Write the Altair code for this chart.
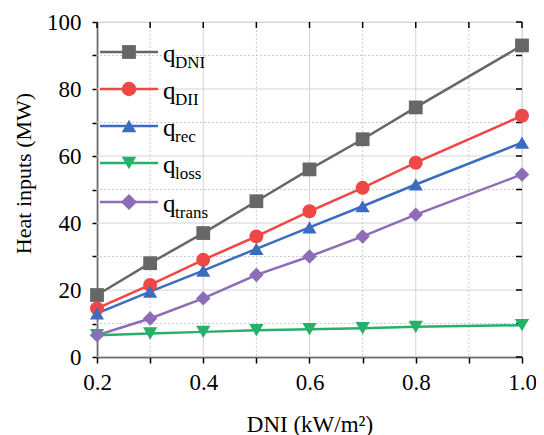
import altair as alt
import pandas as pd

# ---- data ----
dni = [0.2, 0.3, 0.4, 0.5, 0.6, 0.7, 0.8, 1.0]
q_dni = [18.5, 28.0, 37.0, 46.5, 56.0, 65.0, 74.5, 93.0]
q_dii = [14.5, 21.5, 29.0, 36.0, 43.5, 50.5, 58.0, 72.0]
q_rec = [13.0, 19.5, 25.8, 32.3, 38.7, 45.0, 51.5, 64.0]
q_loss = [6.5, 7.0, 7.5, 8.0, 8.3, 8.6, 9.0, 9.5]
q_trans = [6.5, 11.5, 17.5, 24.5, 30.0, 36.0, 42.5, 54.5]

series_names = ["DNI", "DII", "rec", "loss", "trans"]
series_vals = [q_dni, q_dii, q_rec, q_loss, q_trans]
colors = ["#676767", "#ef4646", "#3b6cc0", "#27b06a", "#8d6db8"]
shapes = ["square", "circle", "triangle-up", "triangle-down", "diamond"]
msizes = [190, 210, 210, 210, 260]

x_ticks = [0.2, 0.3, 0.4, 0.5, 0.6, 0.7, 0.8, 0.9, 1.0]
y_ticks = [0, 10, 20, 30, 40, 50, 60, 70, 80, 90, 100]

W, H = 425, 335
FONT = "Liberation Serif"

rows = []
for name, vals in zip(series_names, series_vals):
    for x, v in zip(dni, vals):
        rows.append({"x": x, "v": v, "s": name})
df = pd.DataFrame(rows)

xs = alt.Scale(domain=[0.2, 1.0], nice=False, zero=False)
ys = alt.Scale(domain=[0, 100], nice=False)
cs = alt.Scale(domain=series_names, range=colors)
ss = alt.Scale(domain=series_names, range=shapes)
zs = alt.Scale(domain=series_names, range=msizes)

XAXIS = alt.Axis(
    values=x_ticks, title="DNI (kW/m²)",
    labelExpr="round(datum.value*10)%2==0 ? format(datum.value,'.1f') : ''",
    labelFlush=False, labelOverlap=False,
    grid=False, tickSize=6, tickWidth=1.5, domainWidth=1.5, domainColor="black", tickColor="black",
    labelFont=FONT, labelFontSize=23, labelColor="black", labelPadding=8,
    titleFont=FONT, titleFontSize=23, titleFontWeight="normal", titleColor="black", titlePadding=19)
YAXIS = alt.Axis(
    values=y_ticks, title="Heat inputs (MW)",
    labelExpr="datum.value%20==0 ? datum.label : ''",
    labelFlush=False, labelOverlap=False,
    grid=False, tickSize=5, tickWidth=1.5, domainWidth=1.5, domainColor="black", tickColor="black",
    labelFont=FONT, labelFontSize=23, labelColor="black", labelPadding=11,
    titleFont=FONT, titleFontSize=22, titleFontWeight="normal", titleColor="black",
    titleX=-74, titleY=151, titleAngle=270, titleAlign="center", titleBaseline="middle")

# grid
gx = pd.DataFrame({"x": x_ticks, "major": [round(t * 10) % 2 == 0 for t in x_ticks]})
gy = pd.DataFrame({"v": y_ticks, "major": [t % 20 == 0 for t in y_ticks]})

grid_x_major = alt.Chart(gx[gx.major]).mark_rule(color="#d4d4d4", strokeWidth=1).encode(
    x=alt.X("x:Q", scale=xs, axis=XAXIS))
grid_x_minor = alt.Chart(gx[~gx.major]).mark_rule(color="#cccccc", strokeWidth=1, strokeDash=[2, 2]).encode(
    x=alt.X("x:Q", scale=xs, axis=XAXIS))
grid_y_major = alt.Chart(gy[gy.major]).mark_rule(color="#d4d4d4", strokeWidth=1).encode(
    y=alt.Y("v:Q", scale=ys, axis=YAXIS))
grid_y_minor = alt.Chart(gy[~gy.major]).mark_rule(color="#cccccc", strokeWidth=1, strokeDash=[2, 2]).encode(
    y=alt.Y("v:Q", scale=ys, axis=YAXIS))

# inward ticks on top and right
top_ticks = alt.Chart(gx).mark_rule(color="black", strokeWidth=1.5).encode(
    x=alt.X("x:Q", scale=xs, axis=XAXIS), y=alt.value(0), y2=alt.value(6))
right_ticks = alt.Chart(gy).mark_rule(color="black", strokeWidth=1.5).encode(
    y=alt.Y("v:Q", scale=ys, axis=YAXIS), x=alt.value(W), x2=alt.value(W - 6))

base = alt.Chart(df).encode(
    x=alt.X("x:Q", scale=xs, axis=XAXIS),
    y=alt.Y("v:Q", scale=ys, axis=YAXIS),
    color=alt.Color("s:N", scale=cs, legend=None),
)
lines = base.mark_line(strokeWidth=2.5)
points = base.mark_point(filled=True, opacity=1).encode(
    shape=alt.Shape("s:N", scale=ss, legend=None),
    size=alt.Size("s:N", scale=zs, legend=None))

# custom legend (pixel layout, one small layer per element)
leg_y = [30, 67, 104, 141, 180]
one = pd.DataFrame({"a": [0]})
legend_layers = []
for name, ly, c, sh, sz in zip(series_names, leg_y, colors, shapes, msizes):
    legend_layers.append(alt.Chart(one).mark_rule(strokeWidth=2.5, color=c).encode(
        x=alt.value(3), x2=alt.value(61), y=alt.value(ly)))
    legend_layers.append(alt.Chart(one).mark_point(filled=True, size=sz, opacity=1, color=c, shape=sh).encode(
        x=alt.value(32), y=alt.value(ly)))
    legend_layers.append(alt.Chart(one).mark_text(font=FONT, fontSize=25, align="left", baseline="alphabetic",
                                                  color="black", text="q").encode(
        x=alt.value(66), y=alt.value(ly + 10)))
    legend_layers.append(alt.Chart(one).mark_text(font=FONT, fontSize=17, align="left", baseline="alphabetic",
                                                  color="black", text=name).encode(
        x=alt.value(78), y=alt.value(ly + 16)))

chart = alt.layer(
    grid_x_major, grid_x_minor, grid_y_major, grid_y_minor,
    top_ticks, right_ticks,
    lines, points,
    *legend_layers,
).properties(
    width=W, height=H,
    autosize=alt.AutoSizeParams(type="none"),
    padding={"left": 89, "top": 14, "right": 14, "bottom": 78},
).configure_view(stroke="black", strokeWidth=1.5).configure(background="white")

chart.save("out.html", embed_options={"renderer": "svg", "actions": False})
